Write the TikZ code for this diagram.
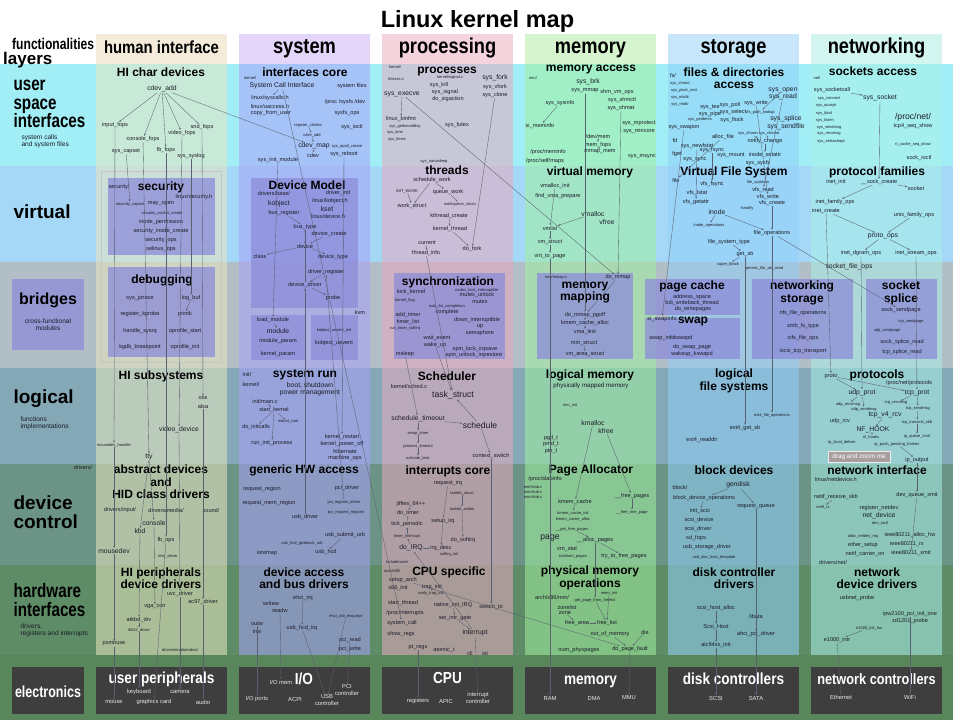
\documentclass[tikz,border=0pt]{standalone}
\usepackage{fontspec}
\setmainfont{Liberation Sans}
\newfontfamily\narrowsans[FakeStretch=0.78]{Liberation Sans}
\newfontfamily\condsans[FakeStretch=0.85]{Liberation Sans}
\usetikzlibrary{arrows.meta,positioning}

\definecolor{rowuser}{HTML}{A2EEF6}
\definecolor{rowvirt}{HTML}{A4D8F6}
\definecolor{rowbridge}{HTML}{B2BEC6}
\definecolor{rowlogic}{HTML}{84A8B6}
\definecolor{rowdev}{HTML}{6C9486}
\definecolor{rowhw}{HTML}{5E8C66}
\definecolor{rowelec}{HTML}{5A865C}
\definecolor{colhi}{HTML}{E8E6C0}
\definecolor{colsys}{HTML}{A8A0F8}
\definecolor{colproc}{HTML}{E8A8C0}
\definecolor{colmem}{HTML}{A0F0A0}
\definecolor{colsto}{HTML}{90D0F8}
\definecolor{colnet}{HTML}{A8F0E8}
\definecolor{headhi}{HTML}{F5EBDA}
\definecolor{headsys}{HTML}{E4D6FA}
\definecolor{headproc}{HTML}{F5D3DD}
\definecolor{headmem}{HTML}{D6F5CE}
\definecolor{headsto}{HTML}{C8E6FA}
\definecolor{headnet}{HTML}{D2F5F0}
\definecolor{boxblue}{HTML}{8C8CD8}
\definecolor{elecgray}{HTML}{3E3E3E}
\definecolor{labeltext}{HTML}{1C1C28}
\definecolor{linkgray}{HTML}{5A6070}
\definecolor{tipgray}{HTML}{A89E9E}

\begin{document}
\begin{tikzpicture}[
  x=1pt, y=-1pt,
  lbl/.style={inner sep=0.4pt, text=labeltext},
  fn/.style={lbl, font=\fontsize{6.8}{7.5}\selectfont},
  fnb/.style={lbl, font=\fontsize{8.6}{9}\selectfont},
  fns/.style={lbl, font=\fontsize{5.6}{6}\selectfont},
  fnt/.style={lbl, font=\fontsize{4}{4.4}\selectfont},
  celltitle/.style={lbl, text=black, align=center, font=\bfseries\fontsize{12}{12.5}\selectfont},
  colhead/.style={anchor=base, text=black, font=\condsans\bfseries\fontsize{21.5}{22}\selectfont},
  rowhead/.style={anchor=west, align=left, text=black, font=\bfseries\fontsize{19}{19.5}\selectfont},
  rowsub/.style={anchor=west, align=left, text=labeltext, font=\fontsize{6.6}{7.4}\selectfont},
  innerbox/.style={fill=boxblue, fill opacity=0.75},
  elecbox/.style={fill=elecgray},
  electitle/.style={anchor=base, text=white, font=\condsans\bfseries\fontsize{16}{16}\selectfont},
  eleclbl/.style={text=white!82!gray, align=center, inner sep=0.4pt, font=\fontsize{5.8}{6.4}\selectfont},
  link/.style={draw=linkgray, line width=0.35pt, -{Stealth[length=2.2pt,width=1.8pt]}},
]
  \useasboundingbox (0,0) rectangle (953,720);
  \fill[white] (0,0) rectangle (953,720);

  \fill[rowuser] (0,64) rectangle (953,166);
  \fill[rowvirt] (0,166) rectangle (953,262);
  \fill[rowbridge] (0,262) rectangle (953,368);
  \fill[rowlogic] (0,368) rectangle (953,464);
  \fill[rowdev] (0,464) rectangle (953,565);
  \fill[rowhw] (0,565) rectangle (953,655);
  \fill[rowelec] (0,655) rectangle (953,720);

  \foreach \cx/\cc/\hc in {96/colhi/headhi, 239/colsys/headsys, 382/colproc/headproc,
                           525/colmem/headmem, 668/colsto/headsto, 811/colnet/headnet} {
    \fill[\hc] (\cx,34) rectangle ++(131,30);
    \fill[\cc, fill opacity=0.55] (\cx,64) rectangle ++(131,591);
  }

  \fill[innerbox] (12,279) rectangle (84,350);
  \fill[innerbox] (108,178) rectangle (215,255);
  \fill[innerbox] (108,267) rectangle (215,357);
  \draw[gray!45, line width=0.7pt] (101,171) rectangle (221,362);
  \fill[innerbox] (251,178) rectangle (358,308);
  \fill[innerbox] (251,315) rectangle (305,360);
  \fill[innerbox] (311,315) rectangle (358,360);
  \fill[innerbox] (394,273) rectangle (505,359);
  \fill[innerbox] (537,273) rectangle (633,359);
  \fill[innerbox] (645,279) rectangle (740,315);
  \fill[innerbox] (645,318) rectangle (740,359);
  \fill[innerbox] (752,279) rectangle (853,359);
  \fill[innerbox] (866,279) rectangle (937,359);

  \fill[elecbox] (12,667) rectangle (84,714);
  \foreach \cx in {96,239,382,525,668,811}
    \fill[elecbox] (\cx,667) rectangle ++(131,47);

  \node[anchor=base, font=\bfseries\fontsize{23.5}{24}\selectfont] (maptitle) at (477.5,27.3) {Linux kernel map};
  \node[anchor=base west, inner sep=0pt, font=\narrowsans\bfseries\fontsize{15.5}{16}\selectfont] (functionalities) at (12,49) {functionalities};
  \node[anchor=base west, inner sep=0pt, font=\bfseries\fontsize{17}{17}\selectfont] (layers) at (3,64) {layers};

  \node[colhead, font=\condsans\bfseries\fontsize{17.5}{18}\selectfont] (hdhuman) at (161.5,53.5) {human interface};
  \node[colhead] (hdsystem) at (304.5,53.5) {system};
  \node[colhead] (hdprocessing) at (447.5,53.5) {processing};
  \node[colhead] (hdmemory) at (590.5,53.5) {memory};
  \node[colhead] (hdstorage) at (733.5,53.5) {storage};
  \node[colhead] (hdnetworking) at (876.5,53.5) {networking};

  \node[rowhead, font=\narrowsans\bfseries\fontsize{19.5}{18.5}\selectfont] (rowuserspace) at (10,104) {user\\space\\interfaces};
  \node[rowsub] (subuser) at (18,141) {system calls\\and system files};
  \node[rowhead] (rowvirtual) at (10,212) {virtual};
  \node[text=black, font=\bfseries\fontsize{16}{16}\selectfont] (rowbridges) at (48,300) {bridges};
  \node[rowsub, anchor=center, align=center] (subbridges) at (48,324.5) {cross-functional\\modules};
  \node[rowhead] (rowlogical) at (10,399) {logical};
  \node[rowsub] (sublogical) at (17,423) {functions\\implementations};
  \node[rowhead, font=\bfseries\fontsize{19}{19.5}\selectfont] (rowdevice) at (10,512) {device\\control};
  \node[rowhead, font=\narrowsans\bfseries\fontsize{19.5}{19}\selectfont] (rowhardware) at (10,600) {hardware\\interfaces};
  \node[rowsub] (subhardware) at (17,630) {drivers,\\registers and interrupts};
  \node[anchor=base, text=white, font=\narrowsans\bfseries\fontsize{16}{16}\selectfont] (electronics) at (48,697) {electronics};

  \node[celltitle] (hichar) at (161,72) {HI char devices};
  \node[celltitle] (ifcore) at (305,72) {interfaces core};
  \node[celltitle] (processes) at (447,72) {processes};
  \node[celltitle] (memaccess) at (591,70) {memory access};
  \node[celltitle] (filesaccess) at (734,78) {files \& directories\\access};
  \node[celltitle] (sockaccess) at (873,71) {sockets access};
  \node[celltitle] (security) at (161,187) {security};
  \node[celltitle] (devmodel) at (307,185) {Device Model};
  \node[celltitle] (threads) at (447,170.5) {threads};
  \node[celltitle] (virtmem) at (590,172) {virtual memory};
  \node[celltitle] (vfs) at (734,172) {Virtual File System};
  \node[celltitle] (protofam) at (877,172) {protocol families};
  \node[celltitle] (debugging) at (162,280) {debugging};
  \node[celltitle] (synchro) at (448,282) {synchronization};
  \node[celltitle] (memmapping) at (585,292.5) {memory\\mapping};
  \node[celltitle] (pagecache) at (692,286) {page cache};
  \node[celltitle] (swap) at (693,322) {swap};
  \node[celltitle] (netstorage) at (802,293) {networking\\storage};
  \node[celltitle] (socksplice) at (901,293) {socket\\splice};
  \node[celltitle] (hisubsys) at (161,376) {HI subsystems};
  \node[celltitle] (sysrun) at (305,375) {system run};
  \node[celltitle] (scheduler) at (447,376) {Scheduler};
  \node[celltitle] (logmem) at (590,375) {logical memory};
  \node[celltitle] (logfs) at (734,381) {logical\\file systems};
  \node[celltitle] (protocols) at (877,375) {protocols};
  \node[celltitle] (absdev) at (161,482) {abstract devices\\and\\HID class drivers};
  \node[celltitle] (generichw) at (304,470) {generic HW access};
  \node[celltitle] (irqcore) at (448,471) {interrupts core};
  \node[celltitle] (pagealloc) at (591,470) {Page Allocator};
  \node[celltitle] (blockdevs) at (734,470) {block devices};
  \node[celltitle] (netiface) at (877,470) {network interface};
  \node[celltitle] (hiperiph) at (161,578) {HI peripherals\\device drivers};
  \node[celltitle] (devaccess) at (304,578) {device access\\and bus drivers};
  \node[celltitle] (cpuspecific) at (449,572) {CPU specific};
  \node[celltitle] (physmem) at (590,578) {physical memory\\operations};
  \node[celltitle] (diskctrl) at (734,578) {disk controller\\drivers};
  \node[celltitle] (netdevdrv) at (877,578) {network\\device drivers};

  \node[fn, align=center] (bootshutdown) at (310,389) {boot, shutdown\\power management};
  \node[fns, font=\fontsize{6.2}{7}\selectfont] (physmapped) at (591,386) {physically mapped memory};

  \foreach \n/\x/\y/\txt in {
    cdevadd/162/89/cdev\_add, sci/282/86/System Call Interface, cdevmap/314/146/cdev\_map,
    sysexecve/402/94/sys\_execve, sysfork/495/78/sys\_fork,
    videodevice/179/430/video\_device, tty/149/457/tty, console/154/523/console, kbd/140/531/kbd, mousedev/114/551/mousedev,
    kobject/279/204/kobject, kset/327/209/kset, module/278/331/module,
    schedtimeout/418/419/schedule\_timeout, doirq/411/548/do\_IRQ, interrupt/475/633/interrupt,
    sysbrk/588/82/sys\_brk, vmalloc/593/214/vmalloc, vfree/607/222/vfree, kmalloc/593/423/kmalloc, kfree/606/431/kfree,
    sysopen/783/90/sys\_open, sysread/783/97/sys\_read, syssplice/786/119/sys\_splice, syssendfile/786/127/sys\_sendfile,
    inode/717/212/inode, gendisk/738/485/gendisk,
    syssocket/880/98/sys\_socket, protoops/883/236/proto\_ops, socketfileops/849/267/socket\_file\_ops,
    udpprot/862/393/udp\_prot, tcpprot/917/393/tcp\_prot, tcpvrcv/885/415/tcp\_v4\_rcv, nfhook/873/430/NF\_HOOK,
    netdevice/879/516/net\_device}
    \node[fn] (\n) at (\x,\y) {\txt};

  \foreach \n/\x/\y/\txt in {
    taskstruct/453/395/task\_struct, schedule/480/425/schedule, page/550/538/page, procnet/913/117/{/proc/net/}}
    \node[fnb] (\n) at (\x,\y) {\txt};

  \foreach \n/\x/\y/\txt in {
    inputfops/115/125/input\_fops, consolefops/143/139/console\_fops, videofops/182/133/video\_fops,
    sndfops/202/127/snd\_fops, syscapset/126/151/sys\_capset, fbfops/166/150/fb\_fops, syssyslog/191/156/sys\_syslog,
    oss/203/398/oss, alsa/203/406/alsa,
    driversdir/83/467/{drivers/}, driversinput/120/510/{drivers/input/}, driversmedia/166/510/{drivers/media/},
    sounddir/211/510/{sound/}, fbops/166/540/fb\_ops,
    uvcdriver/180/594/uvc\_driver, acdriver/203/602/ac97\_driver, vgacon/155/607/vga\_con, atkbd/139/620/atkbd\_drv,
    psmouse/114/644/psmouse,
    securitydir/119/187/{security/}, securityh/194/197/{linux/security.h}, mayopen/161/204/may\_open,
    inodeperm/161/222/inode\_permission, secinodecreate/161/231/security\_inode\_create,
    securityops/161/240/security\_ops, selinuxops/161/249/selinux\_ops,
    sysptrace/140/298/sys\_ptrace, logbuf/191/298/log\_buf, regkprobe/140/314/register\_kprobe, printk/185/314/printk,
    handlesysrq/140/331/handle\_sysrq, oprofilestart/185/331/oprofile\_start, kgdb/140/347/kgdb\_breakpoint,
    oprofileinit/185/347/oprofile\_init,
    sysfiles/352/86/system files, syscallsh/270/98/{linux/syscalls.h}, uaccessh/270/106/{linux/uaccess.h},
    procsysfs/345/102/{/proc /sysfs /dev}, copyfromuser/271/113/copy\_from\_user, sysfsops/347/113/sysfs\_ops,
    sysioctl/352/127/sys\_ioctl, sysreboot/344/154/sys\_reboot, cdev/313/155/cdev, sysinitmod/278/160/sys\_init\_module,
    driversbase/274/193/{drivers/base/}, driverinit/338/193/driver\_init, kobjecth/330/201/{linux/kobject.h},
    busregister/284/213/bus\_register, deviceh/328/216/{linux/device.h}, bustype/305/227/bus\_type,
    devicecreate/329/234/device\_create, device/305/246/device, class/260/256/class, devicetype/333/257/device\_type,
    driverregister/326/272/driver\_register, devicedriver/305/285/device\_driver, probe/333/298/probe, kvm/360/312/kvm,
    loadmodule/273/320/load\_module, moduleparam/278/341/module\_param, kernelparam/278/354/kernel\_param,
    kobjectuevent/334/343/kobject\_uevent,
    initdir/247/374/{init/}, kerneldirc/251/384/{kernel/}, initmain/265/401/{init/main.c}, startkernel/274/410/start\_kernel,
    doinitcalls/256/427/do\_initcalls, runinit/272/443/run\_init\_process, kernelrestart/342/437/kernel\_restart,
    kernelpoweroff/342/444/kernel\_power\_off, hibernate/345/451/hibernate, machineops/345/458/machine\_ops,
    requestregion/262/489/request\_region, pcidriver/347/488/pci\_driver, requestmemregion/269/503/request\_mem\_region,
    usbdriver/305/517/usb\_driver, usbsubmiturb/345/535/usb\_submit\_urb, usbhcd/326/552/usb\_hcd, ioremap/267/553/ioremap,
    writew/271/603/writew, readw/280/610/readw, ehciirq/303/598/ehci\_irq, outw/257/624/outw, inw/257/631/inw,
    usbhcdirq/302/628/usb\_hcd\_irq, pciread/350/640/pci\_read, pciwrite/350/649/pci\_write,
    sysvfork/495/87/sys\_vfork, sysclone/495/95/sys\_clone, syskill/439/85/sys\_kill, syssignal/445/92/sys\_signal,
    dosigaction/448/99/do\_sigaction, linuxbinfmt/401/119/linux\_binfmt, sysfutex/457/125/sys\_futex,
    schedwork/432/180/schedule\_work, queuework/448/192/queue\_work, workstruct/412/206/work\_struct,
    kthreadcreate/449/216/kthread\_create, kernelthread/450/229/kernel\_thread, curr/427/243/current,
    threadinfo/426/253/thread\_info, dofork/472/249/do\_fork,
    lockkernel/411/292/lock\_kernel, mutexunlock/477/295/mutex\_unlock, mutex/480/302/mutex, complete/447/312/complete,
    addtimer/408/315/add\_timer, timerlist/408/322/timer\_list, downint/477/320/down\_interruptible, up/480/327/up,
    semaphore/480/333/semaphore, waitevent/437/338/wait\_event, wakeup/435/345/wake\_up,
    spinlock/475/349/spin\_lock\_irqsave, spinunlock/474/355/spin\_unlock\_irqrestore, msleep/405/354/msleep,
    kernsched/409/386/{kernel/sched.c}, contextswitch/491/456/context\_switch,
    requestirq/448/483/request\_irq, jiffies/411/504/jiffies\_64++, dotimer/408/513/do\_timer, setupirq/443/521/setup\_irq,
    tickperiodic/407/524/tick\_periodic, dosoftirq/463/540/do\_softirq, irqdesc/441/548/irq\_desc,
    setuparch/403/580/setup\_arch, xinit/398/588/x86\_init, trapinit/432/587/trap\_init, startthread/403/603/start\_thread,
    nativeinitirq/453/605/native\_init\_IRQ, switchto/491/607/switch\_to, procinterrupts/405/613/{/proc/interrupts},
    setintrgate/455/618/set\_intr\_gate, systemcall/402/623/system\_call, showregs/401/634/show\_regs,
    ptregs/418/647/pt\_regs, atomict/444/650/atomic\_t, cli/470/653/cli, sti/485/653/sti,
    sysmmap/585/91/sys\_mmap, shmvmops/617/92/shm\_vm\_ops, sysshmctl/622/100/sys\_shmctl, sysshmat/621/108/sys\_shmat,
    syssysinfo/560/103/sys\_sysinfo, simeminfo/540/126/si\_meminfo, sysmprotect/639/123/sys\_mprotect,
    sysmincore/639/131/sys\_mincore, devmem/598/136/{/dev/mem}, memfops/598/145/mem\_fops,
    procmeminfo/548/152/{/proc/meminfo}, mmapmem/600/152/mmap\_mem, sysmsync/642/157/sys\_msync,
    procselfmaps/545/161/{/proc/self/maps},
    vmallocinit/555/186/vmalloc\_init, findvma/558/196/find\_vma\_prepare, vmlist/550/228/vmlist,
    vmstruct/550/242/vm\_struct, virttopage/550/256/virt\_to\_page,
    domap/618/277.5/do\_mmap, dommappgoff/585/315/do\_mmap\_pgoff, kmemcachealloc/585/323/kmem\_cache\_alloc,
    vmalink/585/332/vma\_link, mmstruct/584/343/mm\_struct, vmarea/585/354/vm\_area\_struct,
    pgdt/551/438/pgd\_t, pmdt/551/444/pmd\_t, ptet/551/451/pte\_t,
    procslabinfo/545/479/{/proc/slabinfo}, freepages/632/496/\_\_free\_pages, kmemcache/575/502/kmem\_cache,
    allocpages/595/540/\_\_alloc\_pages, vmstat/567/549/vm\_stat, trytofree/624/556/try\_to\_free\_pages,
    archmm/552/597/{arch/x86/mm/}, zonelist/567/607/zonelist, zone/565/613/zone, freearea/577/623/free\_area,
    freelist/607/623/free\_list, die/645/632/die, outofmemory/610/634/out\_of\_memory,
    numphyspages/579/650/num\_physpages, dopagefault/630/649/do\_page\_fault,
    fsdir/673/75/{fs/}, systee/710/107/sys\_tee, syspipe/710/114/sys\_pipe, syspoll/730/105/sys\_poll,
    sysselect/733/112/sys\_select, sysflock/732/120/sys\_flock, syswrite/756/103/sys\_write, sysswapon/684/128/sys\_swapon,
    allocfile/723/137/alloc\_file, notifychange/765/141/notify\_change, fd/675/140/fd, fget/677/154/fget,
    sysnewfstat/697/146/sys\_newfstat,
    sysfsync/712/150/sys\_fsync, sysmount/731/155/sys\_mount, inodesetattr/765/155/inode\_setattr,
    syssysfs/758/163/sys\_sysfs, syssync/695/160/sys\_sync,
    file/676/180/file, vfsfsync/712/184/vfs\_fsync, vfsread/763/190/vfs\_read, vfslstat/697/193/vfs\_lstat,
    vfswrite/768/197/vfs\_write, vfsgetattr/696/202/vfs\_getattr, vfscreate/772/203/vfs\_create,
    fileops/772/233/file\_operations, filesystype/729/242/file\_system\_type, getsb/745/254/get\_sb,
    addrspace/692/297/address\_space, bdiwb/692/303/bdi\_writeback\_thread, dowritepages/693/309/do\_writepages,
    siswapinfo/662/319/si\_swapinfo, swapinfo/662/338/swap\_info, kswapd/683/338/kswapd,
    doswappage/692/347/do\_swap\_page, wakeupkswapd/692/354/wakeup\_kswapd,
    nfsfileops/803/313/nfs\_file\_operations, smbfstype/803/326/smb\_fs\_type, cifsfileops/803/338/cifs\_file\_ops,
    iscsitcp/803/351/iscsi\_tcp\_transport,
    ext4getsb/745/428/ext4\_get\_sb, ext4readdir/702/440/ext4\_readdir,
    blockdir/680/487/{block/}, blockdevops/704/498/block\_device\_operations, requestqueue/756/506/request\_queue,
    initscsi/700/511/init\_scsi, scsidevice/699/520/scsi\_device, scsidriver/698/529/scsi\_driver, sdfops/696/538/sd\_fops,
    usbstordrv/707/547/usb\_storage\_driver,
    scsihostalloc/716/608/scsi\_host\_alloc, libata/756/616/libata, scsihost/716/627/Scsi\_Host,
    ahcipci/756/634/ahci\_pci\_driver, aicinit/716/645/aic94xx\_init,
    syssocketcall/832/90/sys\_socketcall, tcpseqshow/913/126/tcp4\_seq\_show, sockioctl/919/158/sock\_ioctl,
    inetinit/836/182/inet\_init, sockcreate/879/182/\_\_sock\_create, socket/916/188/socket,
    inetfamilyops/835/202/inet\_family\_ops, inetcreate/826/211/inet\_create, unixfamilyops/914/215/unix\_family\_ops,
    inetdgram/861/253/inet\_dgram\_ops, inetstream/916/253/inet\_stream\_ops,
    socksendpage/901/310/sock\_sendpage, socksplread/902/342/sock\_splice\_read, tcpsplread/902/352/tcp\_splice\_read,
    proto/831/376/proto, procnetproto/909/383/{/proc/net/protocols}, udprcv/840/421/udp\_rcv, ipoutput/917/460/ip\_output,
    linuxnetdev/836/479/{linux/netdevice.h}, netifrecv/836/497/netif\_receive\_skb, devqueuexmit/917/495/dev\_queue\_xmit,
    registernetdev/879/508/register\_netdev, ieeealloc/910/535/ieee80211\_alloc\_hw, ethersetup/863/545/ether\_setup,
    ieeerx/907/544/ieee80211\_rx, netifcarrier/865/554/netif\_carrier\_on, ieeexmit/911/553/ieee80211\_xmit,
    drivernet/833/562/{drivers/net/}, usbnetprobe/857/598/usbnet\_probe, ipw/910/614/ipw2100\_pci\_init\_one,
    zdprobe/910/621/zd1201\_probe, eintr/837/640/e1000\_intr}
    \node[fns] (\n) at (\x,\y) {\txt};

  \foreach \n/\x/\y/\txt in {
    mousedevhandler/114/445/mousedev\_handler, drmdriver/168/556/drm\_driver, i8042/139/630/i8042\_driver,
    mediavideo/180/650/{drivers/media/video/}, seccapset/130/204/security\_capset,
    secsocketcreate/162/213/security\_socket\_create,
    kerneldira/250/78/{kernel/}, regchrdev/308/125/register\_chrdev, cdevaddb/312/135/cdev\_add,
    epoll/347/146/sys\_epoll\_create, kobjectueventinit/334/330/kobject\_uevent\_init, mountroot/288/422/mount\_root,
    pciregdriver/344/502/pci\_register\_driver, pcireqregions/346/512/pci\_request\_regions,
    usbgiveback/302/543/usb\_hcd\_giveback\_urb, ehciurb/346/616/ehci\_urb\_enqueue,
    kerneldirb/395/67/{kernel/}, fsexec/396/79/{fs/exec.c}, kernsignal/450/77/{kernel/signal.c},
    gettimeofday/405/126/sys\_gettimeofday, systime/395/132/sys\_time, systimes/397/139/sys\_times,
    nanosleep/434/161/sys\_nanosleep, initwork/407/191/INIT\_WORK, wqstruct/460/204/workqueue\_struct,
    kernelflag/405/300/kernel\_flag, mutexlockint/477/290/mutex\_lock\_interruptible,
    waitcompl/447/306/wait\_for\_completion, runtimersoftirq/405/328/run\_timer\_softirq,
    setuptimer/418/433/setup\_timer, processtimeout/418/446/process\_timeout, activatetask/418/458/activate\_task,
    taskletstruct/462/493/tasklet\_struct, taskletaction/462/509/tasklet\_action, timerint/407/536/timer\_interrupt,
    softirqinit/449/554/softirq\_init, includeasm/397/562/{include/asm/}, archx/392/571/{arch/x86/},
    earlytrapinit/431/593/early\_trap\_init,
    mmdir/533/78/{mm/}, mmmmapc/556/277/{mm/mmap.c}, mminit/570/405/mm\_init,
    slabc/533/487/{mm/slab.c}, slubc/533/492/{mm/slub.c}, slobc/533/497/{mm/slob.c},
    freeonepage/632/512/\_\_free\_one\_page, kmemcacheinit/573/513/kmem\_cache\_init,
    kmemcacheallocb/573/519/kmem\_cache\_alloc, getfreepages/572/529/\_\_get\_free\_pages, totalram/573/556/totalram\_pages,
    meminit/609/593/mem\_init, getpagefl/595/600/get\_page\_from\_freelist,
    syschroot/680/83/sys\_chroot, syspivot/684/90/sys\_pivot\_root, sysmkdir/680/97/sys\_mkdir, sysrmdir/680/104/sys\_rmdir,
    sysgetdents/700/119/sys\_getdents, vfspathlookup/760/112/vfs\_path\_lookup,
    syschown/748/133.5/sys\_chown, syschmod/769/133.5/sys\_chmod,
    filesystems/758/182/file\_systems, fsnotify/747/208/fsnotify, inodeops/709/225/inode\_operations,
    superblock/728/264/super\_block, genericread/764/268/generic\_file\_aio\_read,
    ext4fileops/772/415/ext4\_file\_operations, usbstorhost/714/557/usb\_stor\_host\_template,
    tcpsendpage/911/321/tcp\_sendpage, udpsendpage/887/330/udp\_sendpage,
    netdir/817/78/{net/}, sysconnect/829/99/sys\_connect, sysaccept/826/106/sys\_accept, sysbind/824/113/sys\_bind,
    syslisten/825/120/sys\_listen, syssendmsg/829/127/sys\_sendmsg, sysrecvmsg/829/134/sys\_recvmsg,
    syssetsockopt/831/141/sys\_setsockopt, rtcache/913/144/rt\_cache\_seq\_show,
    udprecvmsg/848/404/udp\_recvmsg, udpsendmsg/864/409/udp\_sendmsg, tcprecvmsg/896/403/tcp\_recvmsg,
    tcpsendmsg/918/408/tcp\_sendmsg, tcptransmit/917/422/tcp\_transmit\_skb, nfhooks/871/437/nf\_hooks,
    ipqueuexmit/917/436/ip\_queue\_xmit, iplocaldeliver/842/442/ip\_local\_deliver,
    ippush/897/444/ip\_push\_pending\_frames,
    netifrx/823/507/netif\_rx, devioctl/880/523/dev\_ioctl, allocnetdev/863/536/alloc\_netdev\_mq,
    einit/869/628/e1000\_init\_hw}
    \node[fnt] (\n) at (\x,\y) {\txt};

  \node[electitle] (eluser) at (161.5,683) {user peripherals};
  \node[electitle] (elio) at (304,684) {I/O};
  \node[electitle] (elcpu) at (447.5,683) {CPU};
  \node[electitle] (elmem) at (590.5,684) {memory};
  \node[electitle] (eldisk) at (733.5,684) {disk controllers};
  \node[electitle, font=\condsans\bfseries\fontsize{15}{15}\selectfont] (elnet) at (876.5,684) {network controllers};

  \foreach \n/\x/\y/\txt in {
    keyboard/139/692/keyboard, camera/180/692/camera, mouse/114/702/mouse, graphicscard/154/702/graphics card,
    audio/203/702/audio,
    iomem/281/682/{I/O mem}, ioports/257/699/{I/O ports}, acpi/295/699/ACPI, usbctrl/327/700/{USB\\controller},
    pcictrl/347/690/{PCI\\controller},
    registers/418/701/registers, apic/446/701/APIC, intctrl/478/698/{interrupt\\controller},
    ram/550/698/RAM, dma/594/698/DMA, mmu/629/698/MMU, scsi/716/698/SCSI, sata/756/698/SATA,
    ethernet/841/697/Ethernet, wifi/910/697/WiFi}
    \node[eleclbl] (\n) at (\x,\y) {\txt};

  \foreach \a/\b in {
    cdevadd/inputfops, cdevadd/consolefops, cdevadd/fbfops, cdevadd/videofops, cdevadd/sndfops, cdevadd/cdevmap,
    syscapset/seccapset, syssyslog/logbuf, logbuf/printk,
    inputfops/mousedevhandler, mousedevhandler/mousedev, mousedev/psmouse, psmouse/mouse,
    consolefops/tty, tty/console, tty/kbd, console/vgacon, kbd/atkbd, atkbd/i8042, i8042/keyboard,
    fbfops/fbops, fbops/graphicscard, videofops/videodevice, videodevice/uvcdriver, uvcdriver/camera,
    sndfops/oss, alsa/acdriver, acdriver/audio,
    regchrdev/cdevaddb, cdevaddb/cdevmap, cdevmap/cdev, sci/syscallsh, sci/systemcall,
    sysinitmod/loadmodule, loadmodule/module, sysreboot/kernelrestart,
    busregister/bustype, bustype/device, devicecreate/device, device/class, device/devicetype,
    driverregister/devicedriver, devicedriver/probe, devicedriver/bustype, usbdriver/devicedriver,
    pciregdriver/driverregister,
    initmain/startkernel, startkernel/doinitcalls, startkernel/mountroot, startkernel/runinit,
    usbsubmiturb/usbhcd, ehciirq/usbhcdirq, usbhcdirq/usbctrl, ehciurb/usbctrl, pciread/pcictrl, readw/iomem,
    outw/ioports,
    sysexecve/linuxbinfmt, sysexecve/domap, sysclone/dofork,
    schedwork/workstruct, schedwork/queuework, initwork/workstruct, queuework/wqstruct,
    kthreadcreate/kernelthread, kernelthread/dofork, curr/threadinfo, threadinfo/taskstruct,
    msleep/schedtimeout, wakeup/taskstruct, schedtimeout/schedule, schedtimeout/setuptimer,
    setuptimer/processtimeout, processtimeout/activatetask,
    schedule/contextswitch, schedule/taskstruct, contextswitch/switchto,
    requestirq/setupirq, setupirq/irqdesc, taskletstruct/taskletaction, taskletaction/dosoftirq,
    timerint/tickperiodic, tickperiodic/dotimer, dotimer/jiffies, doirq/irqdesc, doirq/timerint, interrupt/doirq,
    trapinit/earlytrapinit, nativeinitirq/setintrgate, setintrgate/interrupt, setuparch/dopagefault,
    ptregs/registers, interrupt/intctrl,
    syssysinfo/simeminfo, sysmmap/dommappgoff, sysshmat/domap, devmem/memfops, memfops/mmapmem,
    vmallocinit/vmlist, vmalloc/vmlist, vmlist/vmstruct, vmstruct/virttopage,
    domap/dommappgoff, dommappgoff/kmemcachealloc, kmemcachealloc/vmalink, mmstruct/vmarea,
    kmalloc/kmemcache, kfree/freepages, freepages/freeonepage, kmemcache/kmemcacheinit,
    getfreepages/allocpages, allocpages/trytofree, allocpages/getpagefl, getpagefl/freelist, meminit/freelist,
    zone/freearea, freearea/freelist, outofmemory/dopagefault, die/dopagefault, dopagefault/mmu, virttopage/ram,
    sysread/vfsread, syswrite/vfswrite, sysopen/vfspathlookup, sysfsync/vfsfsync, sysnewfstat/vfsgetattr,
    sysswapon/siswapinfo, allocfile/file, syschown/notifychange, syschmod/notifychange, notifychange/inodesetattr,
    inode/inodeops, inode/fileops, vfscreate/fileops, filesystype/getsb, getsb/superblock, getsb/ext4getsb,
    fileops/ext4fileops, fileops/socksendpage,
    gendisk/blockdevops, gendisk/requestqueue, requestqueue/sata, blockdevops/initscsi,
    scsihostalloc/scsihost, scsihost/aicinit, aicinit/scsi, libata/ahcipci,
    syssocketcall/syssocket, syssocket/sockcreate, sockcreate/socket, sockcreate/inetfamilyops,
    inetcreate/protoops, unixfamilyops/protoops, protoops/inetdgram, protoops/inetstream,
    inetstream/tcpprot, inetdgram/udpprot, inetcreate/proto, proto/udpprot, proto/tcpprot,
    udpprot/udprecvmsg, udpprot/udpsendmsg, tcpprot/tcprecvmsg, tcpprot/tcpsendmsg, tcpsendmsg/tcptransmit,
    tcpvrcv/nfhook, nfhook/nfhooks, tcptransmit/ipqueuexmit, ippush/ipoutput, ipoutput/devqueuexmit,
    netifrecv/netifrx, devqueuexmit/ieeexmit, einit/eintr, eintr/ethernet, ipw/wifi}
    \draw[link] (\a) -- (\b);

  \node[fill=tipgray, draw=white!85!gray, line width=0.6pt, text=white, inner sep=0pt,
        minimum width=62pt, minimum height=11pt, font=\fontsize{6.4}{7}\selectfont] (tooltip) at (859,456.5) {drag and zoom me};
\end{tikzpicture}
\end{document}
